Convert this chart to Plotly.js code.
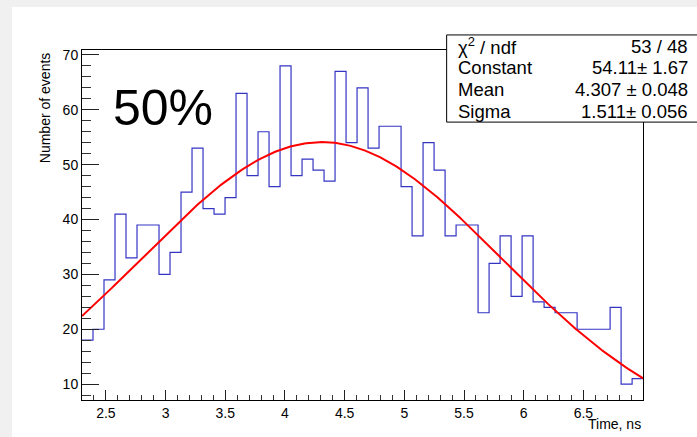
<!DOCTYPE html>
<html>
<head>
<meta charset="utf-8">
<script src="https://cdn.plot.ly/plotly-3.0.1.min.js"></script>
<style>
  html, body { margin: 0; padding: 0; background: #f0f0f0; width: 697px; height: 437px; overflow: hidden; }
  #chart { position: absolute; left: 12px; top: 7px; width: 685px; height: 430px; }
</style>
</head>
<body>
<div id="chart"></div>
<script>
// Histogram binning
const binLow = 2.3;
const binHigh = 7.0;
// Bin contents (51 bins)
const counts = [18, 20, 29, 41, 33, 39, 39, 30, 34, 45, 53, 42, 41, 44, 63, 48, 56, 46, 68, 48,
                51, 49, 47, 67, 54, 64, 53, 57, 57, 46, 37, 54, 49, 37, 39, 39, 23, 32, 37, 26,
                37, 25, 24, 23, 23, 20, 20, 20, 24, 10, 11];
// Gaussian fit parameters
const fitConstant = 54.11;
const fitMean = 4.307;
const fitSigma = 1.511;
// Stats box text
const statNames = ['χ<sup>2</sup> / ndf', 'Constant', 'Mean', 'Sigma'];
const statValues = ['53 / 48', '54.11± 1.67', '4.307 ± 0.048', '1.511± 0.056'];
const xTitle = 'Time, ns';
const yTitle = 'Number of events';
const label = '50%';

const nb = counts.length;
const bw = (binHigh - binLow) / nb;
const hx = [], hy = [];
for (let i = 0; i < nb; i++) { hx.push(binLow + i * bw); hy.push(counts[i]); }
hx.push(binHigh); hy.push(counts[nb - 1]);

const fx = [], fy = [];
const nf = 300;
for (let i = 0; i <= nf; i++) {
  const x = binLow + (binHigh - binLow) * i / nf;
  fx.push(x);
  fy.push(fitConstant * Math.exp(-0.5 * Math.pow((x - fitMean) / fitSigma, 2)));
}

const font = 'Liberation Sans, Arial, Helvetica, sans-serif';

const traces = [
  { x: hx, y: hy, type: 'scatter', mode: 'lines', line: { shape: 'hv', color: '#3535c4', width: 1.2 }, hoverinfo: 'skip', cliponaxis: true },
  { x: fx, y: fy, type: 'scatter', mode: 'lines', line: { color: '#ff0000', width: 2 }, hoverinfo: 'skip' }
];

const rowY = [1.0114, 0.9497, 0.8874, 0.8257];
const annotations = [];
for (let i = 0; i < statNames.length; i++) {
  annotations.push({ xref: 'paper', yref: 'paper', x: 0.6665, y: rowY[i], xanchor: 'left', yanchor: 'middle',
    text: statNames[i], showarrow: false, font: { family: font, size: 18.5, color: '#000' } });
  annotations.push({ xref: 'paper', yref: 'paper', x: 1.0835, y: rowY[i], xanchor: 'right', yanchor: 'middle',
    text: statValues[i], showarrow: false, font: { family: font, size: 18.5, color: '#000' } });
}
annotations.push({ xref: 'paper', yref: 'paper', x: 0.052, y: 0.834, xanchor: 'left', yanchor: 'middle',
  text: label, showarrow: false, font: { family: font, size: 50, color: '#000' } });
annotations.push({ xref: 'paper', yref: 'paper', x: 1.0, y: -0.0686, xanchor: 'right', yanchor: 'middle',
  text: xTitle, showarrow: false, font: { family: font, size: 14, color: '#000' } });
annotations.push({ xref: 'paper', yref: 'paper', x: -0.0665, y: 1.0, xanchor: 'center', yanchor: 'top',
  text: yTitle, textangle: -90, showarrow: false, font: { family: font, size: 14, color: '#000' } });

const layout = {
  width: 685, height: 430,
  margin: { l: 70, r: 54, t: 43, b: 37, pad: 0 },
  paper_bgcolor: '#ffffff', plot_bgcolor: '#ffffff',
  showlegend: false,
  font: { family: font, size: 14, color: '#000' },
  xaxis: {
    range: [binLow, 6.999], showgrid: false, zeroline: false,
    showline: true, linecolor: '#000', linewidth: 1, mirror: true,
    ticks: 'inside', ticklen: 10.5, tickcolor: '#222', tickwidth: 1,
    tick0: 2.5, dtick: 0.5,
    minor: { ticks: 'inside', ticklen: 5.25, dtick: 0.1, tick0: 2.5, tickcolor: '#333', showgrid: false },
    tickfont: { family: font, size: 14, color: '#000' }
  },
  yaxis: {
    range: [7.1, 70.9], showgrid: false, zeroline: false,
    showline: true, linecolor: '#000', linewidth: 1, mirror: true,
    ticks: 'inside', ticklen: 17, tickcolor: '#222', tickwidth: 1,
    tick0: 10, dtick: 10,
    minor: { ticks: 'inside', ticklen: 8.5, dtick: 2, tick0: 10, tickcolor: '#333', showgrid: false },
    tickfont: { family: font, size: 14, color: '#000' }
  },
  shapes: [
    { type: 'rect', xref: 'paper', yref: 'paper', x0: 0.650, x1: 1.12, y0: 0.794, y1: 1.043,
      fillcolor: '#ffffff', line: { color: '#000', width: 1 }, layer: 'above' }
  ],
  annotations: annotations
};

Plotly.newPlot('chart', traces, layout, { displayModeBar: false, staticPlot: true });
</script>
</body>
</html>
